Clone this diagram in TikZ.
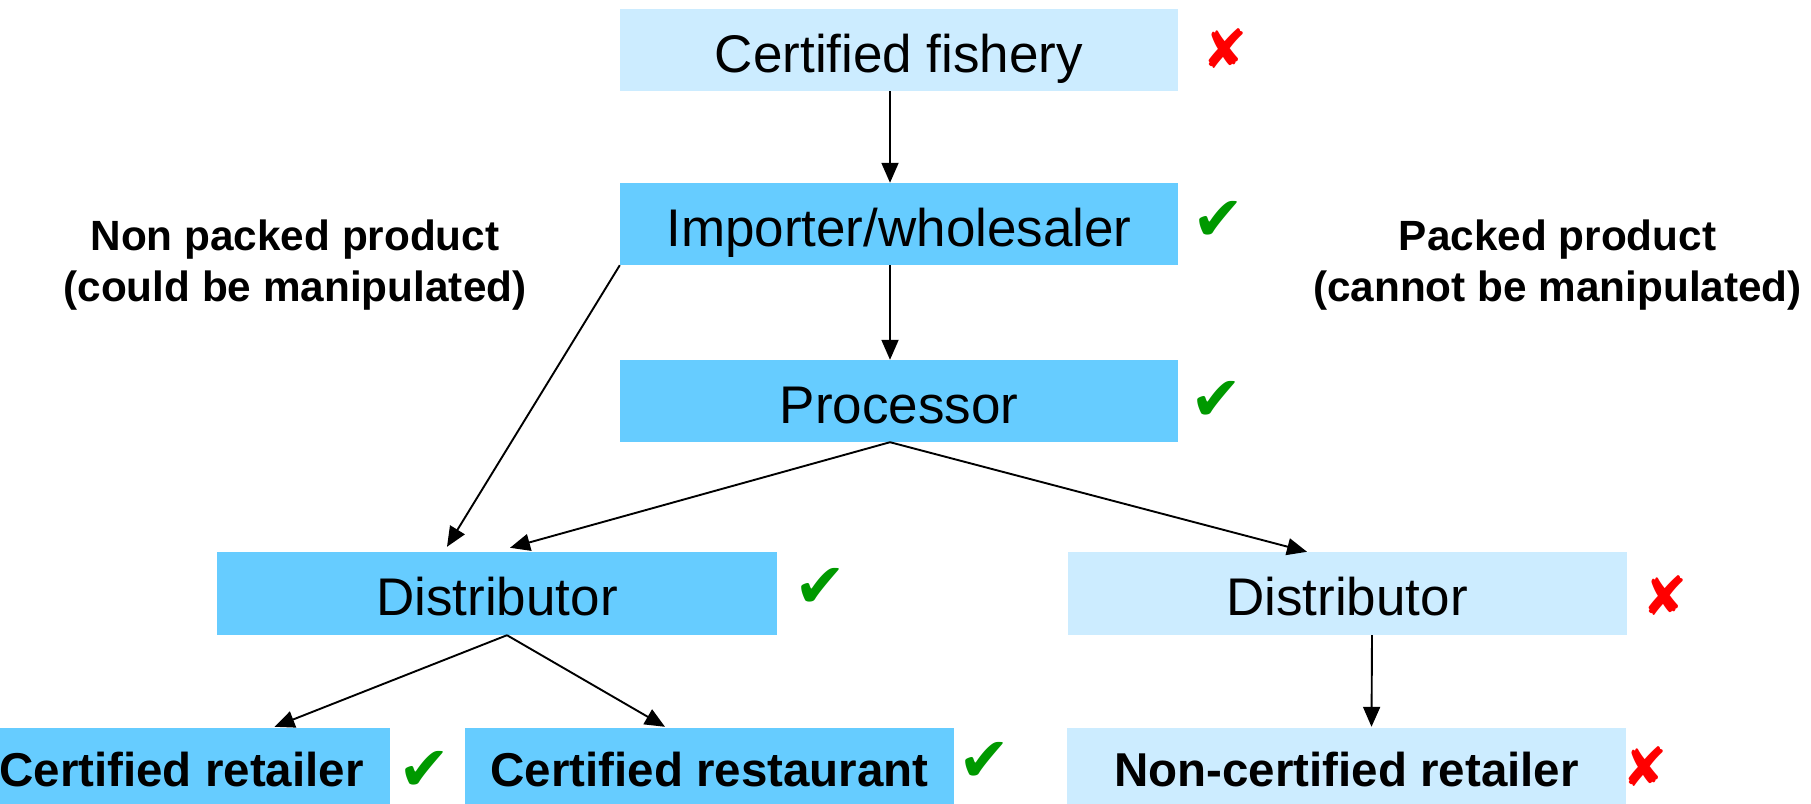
\documentclass[tikz,border=0pt]{standalone}
\usepackage{fontspec}
\setmainfont{Liberation Sans}
\newfontfamily\symfont{DejaVu Sans}
\usetikzlibrary{arrows.meta,calc}
\definecolor{darkbox}{HTML}{66CCFF}
\definecolor{lightbox}{HTML}{CCECFF}
\definecolor{okgreen}{HTML}{009900}
\definecolor{nored}{HTML}{FF0000}
\begin{document}
\begin{tikzpicture}[x=1pt,y=-1pt,
  boxbase/.style={rectangle,inner sep=0pt,anchor=center,text=black},
  bigbox/.style={boxbase,minimum width=558pt,minimum height=82pt,text height=44pt,text depth=0pt,font=\fontsize{53}{60}\selectfont},
  botbox/.style={boxbase,minimum height=83pt,font=\bfseries\fontsize{47.5}{55}\selectfont},
  dark/.style={fill=darkbox},
  light/.style={fill=lightbox},
  lbl/.style={align=center,font=\bfseries\fontsize{42.3}{51}\selectfont},
  okmark/.style={text=okgreen,font=\symfont\fontsize{62}{62}\selectfont,inner sep=0pt},
  nomark/.style={text=nored,font=\symfont\fontsize{54}{54}\selectfont,inner sep=0pt},
  arr/.style={draw=black,line width=1.9pt,-{Triangle[length=20pt,width=17pt]}}]
\useasboundingbox (0,0) rectangle (1811,803);
\clip (0,0) rectangle (1811,803);
% boxes
\node[bigbox,light] (fish) at (899,50) {Certified fishery};
\node[bigbox,dark] (imp) at (899,224) {Importer/wholesaler};
\node[bigbox,dark] (proc) at (899,401) {Processor};
\node[bigbox,dark,minimum width=560pt,minimum height=83pt] (ld) at (497,593.5) {Distributor};
\node[bigbox,light,minimum width=559pt,minimum height=83pt] (rd) at (1347,593.5) {Distributor};
\node[botbox,dark,minimum width=417pt] (cr) at (181.5,769.5) {Certified retailer};
\node[botbox,dark,minimum width=489pt] (crest) at (709.5,769.5) {Certified restaurant};
\node[botbox,light,minimum width=559pt] (ncr) at (1346.5,769.5) {Non-certified retailer};
% labels
\node[lbl] (lnp) at (295,265) {Non packed product\\(could be manipulated)};
\node[lbl] (lp) at (1557.5,265) {Packed product\\(cannot be manipulated)};
% marks
\node[nomark] (m1) at (1225,49) {✘};
\node[okmark] (m2) at (1218,221) {✔};
\node[okmark] (m3) at (1216,401) {✔};
\node[okmark] (m4) at (820,588) {✔};
\node[nomark] (m5) at (1665,596) {✘};
\node[okmark] (m6) at (424,771) {✔};
\node[okmark] (m7) at (984,762) {✔};
\node[nomark] (m8) at (1645,767) {✘};
% connectors
\draw[arr] ($(fish.south)+(-9,0)$) -- ($(imp.north)+(-9,0)$);
\draw[arr] ($(imp.south)+(-9,0)$) -- ($(proc.north)+(-9,0)$);
\draw[arr] (imp.south west) -- ($(ld.north)+(-50,-5)$);
\draw[arr] ($(proc.south)+(-9,0)$) -- ($(ld.north)+(13,-4)$);
\draw[arr] ($(proc.south)+(-9,0)$) -- ($(rd.north)+(-40,0)$);
\draw[arr] ($(ld.south)+(10,0)$) -- ($(cr.north)+(93,-1)$);
\draw[arr] ($(ld.south)+(10,0)$) -- ($(crest.north)+(-44.5,-1)$);
\draw[arr] ($(rd.south)+(25,0)$) -- ($(ncr.north)+(25,-1)$);
\end{tikzpicture}
\end{document}
